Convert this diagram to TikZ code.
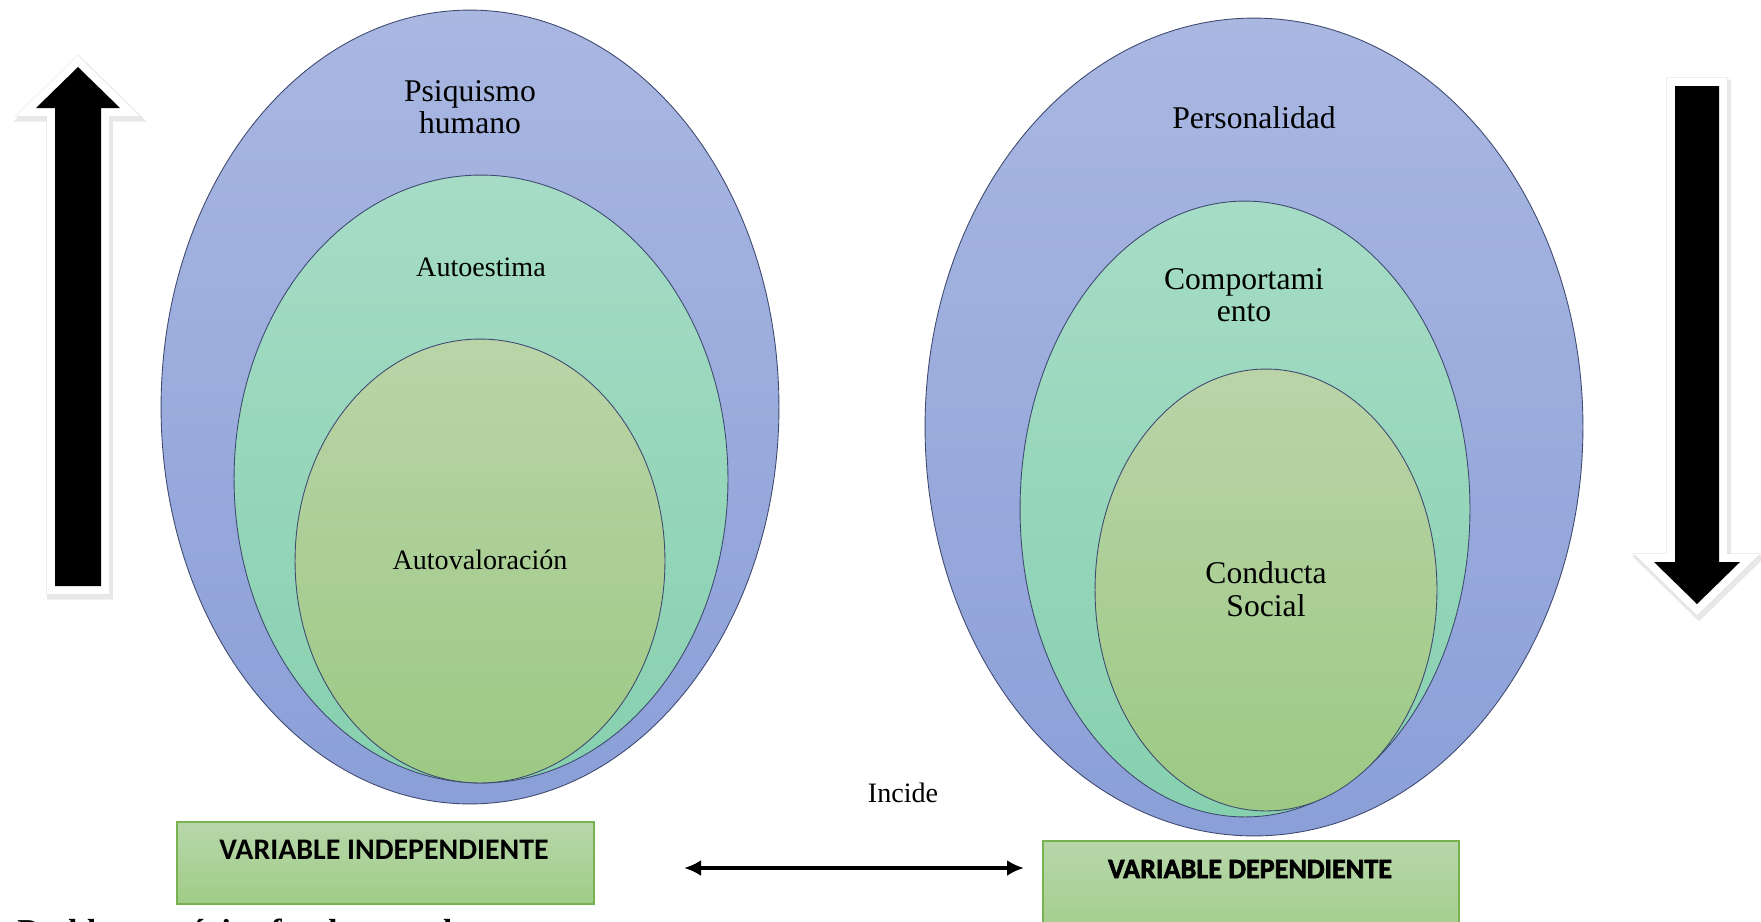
\documentclass[tikz,border=0pt]{standalone}
\usepackage{fontspec}
\setmainfont{Liberation Serif}
\newfontfamily\boxfont{Carlito}
\newfontfamily\boxfontheavy{Carlito}[BoldFeatures={FakeBold=2.2}]
\usetikzlibrary{shapes.geometric,arrows.meta}

\definecolor{bluetop}{HTML}{A9B7E1}
\definecolor{bluebot}{HTML}{8B9FD8}
\definecolor{tealtop}{HTML}{A6DCC6}
\definecolor{tealbot}{HTML}{86D0AF}
\definecolor{greentop}{HTML}{BAD4A8}
\definecolor{greenbot}{HTML}{9CC983}
\definecolor{boxtop}{HTML}{B7D7AA}
\definecolor{boxbot}{HTML}{A0CC87}
\definecolor{boxline}{HTML}{77B150}
\definecolor{ovalline}{HTML}{3F4A70}

\begin{document}
\begin{tikzpicture}[x=0.02cm,y=-0.02cm]
    \tikzset{
        oval/.style={ellipse, draw=ovalline, line width=0.5pt, inner sep=0pt},
        outeroval/.style={oval, top color=bluetop, bottom color=bluebot},
        midoval/.style={oval, top color=tealtop, bottom color=tealbot},
        inneroval/.style={oval, top color=greentop, bottom color=greenbot},
        bigtext/.style={align=center, inner sep=0pt, font=\fontsize{18}{18.5}\selectfont},
        smalltext/.style={align=center, inner sep=0pt, font=\fontsize{16}{17}\selectfont},
        varbox/.style={rectangle, anchor=north west, draw=boxline, line width=1pt,
            top color=boxtop, bottom color=boxbot, inner sep=0pt},
        blockarrow/.style={fill=black, line join=miter,
            preaction={draw=black!20, opacity=0.45, line width=0.4cm,
                transform canvas={shift={(0.04cm,-0.07cm)}}},
            preaction={draw=black!12, opacity=0.5, line width=0.36cm},
            preaction={draw=white, line width=0.32cm}},
        twoway/.style={{Latex[length=0.34cm,width=0.32cm]}-{Latex[length=0.34cm,width=0.32cm]}, line width=0.07cm}
    }
    \useasboundingbox (0,0) rectangle (1761,921);

    % left side: independent variable
    \node[outeroval, minimum width=12.36cm, minimum height=15.88cm] (psyOval) at (470,407) {};
    \node[midoval, minimum width=9.88cm, minimum height=12.16cm] (esteemOval) at (481,479) {};
    \node[inneroval, minimum width=7.4cm, minimum height=8.88cm] (valueOval) at (480,561) {};
    \node[bigtext] (psyText) at (470,107) {Psiquismo\\humano};
    \node[smalltext] (esteemText) at (481,267) {Autoestima};
    \node[smalltext] (valueText) at (480,560) {Autovaloración};

    % right side: dependent variable
    \node[outeroval, minimum width=13.16cm, minimum height=16.36cm] (persOval) at (1254,427) {};
    \node[midoval, minimum width=9cm, minimum height=12.32cm] (behavOval) at (1245,509) {};
    \node[inneroval, minimum width=6.84cm, minimum height=8.84cm] (socialOval) at (1266,590) {};
    \node[bigtext] (persText) at (1254,118) {Personalidad};
    \node[bigtext] (behavText) at (1244,295) {Comportami\\ento};
    \node[bigtext] (socialText) at (1266,589) {Conducta\\Social};

    % variable boxes
    \node[varbox, minimum width=8.34cm, minimum height=1.64cm] (indepBox) at (176,821) {};
    \node[font=\boxfont\bfseries\fontsize{17}{17}\selectfont] (indepText) at (384,850) {VARIABLE INDEPENDIENTE};
    \node[varbox, minimum width=8.32cm, minimum height=2.2cm] (depBox) at (1042,840) {};
    \node[font=\boxfontheavy\bfseries\fontsize{16}{16}\selectfont] (depText) at (1250,869) {VARIABLE DEPENDIENTE};

    % incide
    \node[smalltext] (incide) at (903,793) {Incide};
    \coordinate (incL) at (684,868);
    \coordinate (incR) at (1024,868);
    \draw[twoway] (incL) -- (incR);

    % block arrows
    \path[blockarrow] (55,586) -- (55,108) -- (36,108) -- (78,67) -- (120,108) -- (101,108) -- (101,586) -- cycle;
    \path[blockarrow] (1675,86) -- (1675,562) -- (1654,562) -- (1697,604) -- (1740,562) -- (1719,562) -- (1719,86) -- cycle;

    \node[anchor=base west, inner sep=0pt, font=\bfseries\fontsize{19}{19}\selectfont] (problem) at (17,942) {Problema teórico fundamental};
\end{tikzpicture}
\end{document}
